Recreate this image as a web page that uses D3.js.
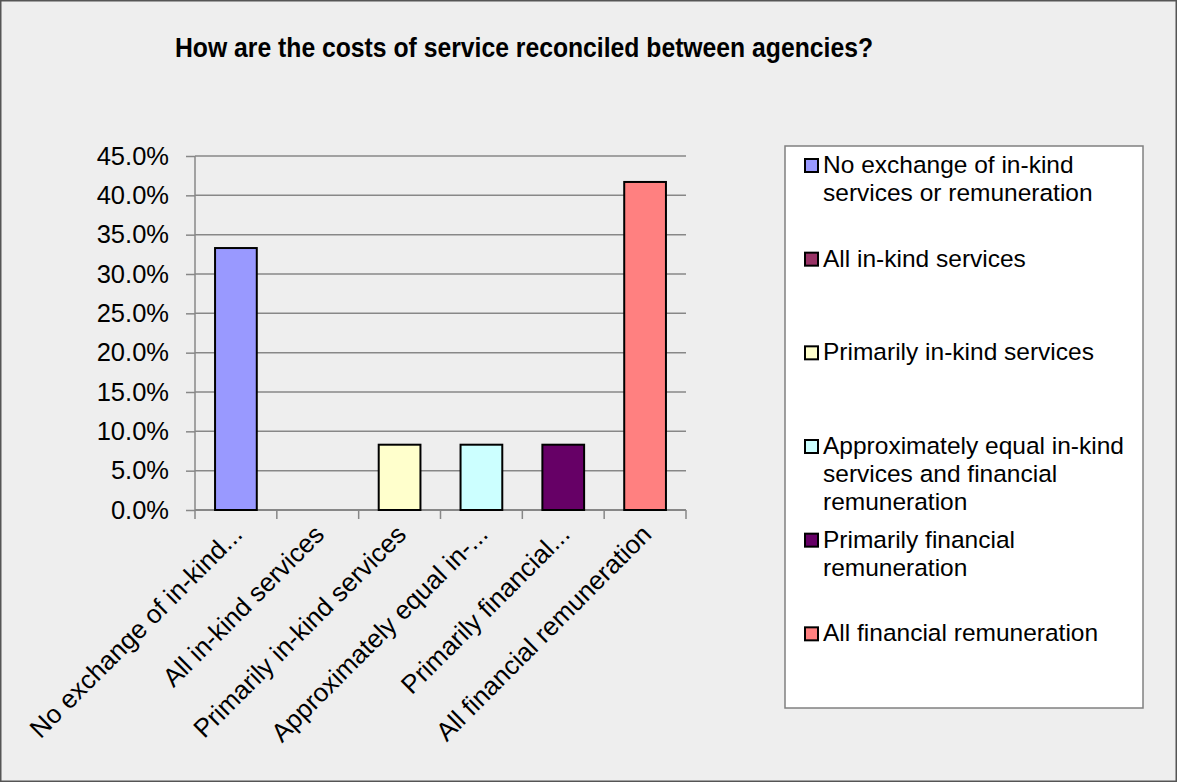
<!DOCTYPE html>
<html>
<head>
<meta charset="utf-8">
<script src="https://cdn.jsdelivr.net/npm/d3@7"></script>
<style>
  html, body { margin: 0; padding: 0; background: #eeeeee; }
  svg { display: block; font-family: "Liberation Sans", Arial, sans-serif; }
</style>
</head>
<body>
<svg id="chart" width="1177" height="782"></svg>
<script>
// Survey answers: share of respondents (%) per reconciliation method
const categories = [
  "No exchange of in-kind services or remuneration",
  "All in-kind services",
  "Primarily in-kind services",
  "Approximately equal in-kind services and financial remuneration",
  "Primarily financial remuneration",
  "All financial remuneration"
];
const axisLabels = [
  "No exchange of in-kind...",
  "All in-kind services",
  "Primarily in-kind services",
  "Approximately equal in-...",
  "Primarily financial...",
  "All financial remuneration"
];
const legendLines = [
  ["No exchange of in-kind", "services or remuneration"],
  ["All in-kind services"],
  ["Primarily in-kind services"],
  ["Approximately equal in-kind", "services and financial", "remuneration"],
  ["Primarily financial", "remuneration"],
  ["All financial remuneration"]
];
const values = [33.3, 0, 8.3, 8.3, 8.3, 41.7];
const colors = ["#9999FF", "#993366", "#FFFFCC", "#CCFFFF", "#660066", "#FF8080"];
const yTicks = [0, 5, 10, 15, 20, 25, 30, 35, 40, 45];
const title = "How are the costs of service reconciled between agencies?";

const W = 1177, H = 782;
const plot = { left: 195, right: 686, top: 156, bottom: 510 };
const svg = d3.select("#chart");

// chart background and frame
svg.append("rect")
  .attr("x", 0.75).attr("y", 0.75)
  .attr("width", W - 1.5).attr("height", H - 1.5)
  .attr("fill", "#eeeeee").attr("stroke", "#555555").attr("stroke-width", 1.5);

// title
svg.append("text")
  .attr("x", 175).attr("y", 57)
  .attr("font-size", 27).attr("font-weight", "bold")
  .attr("textLength", 698).attr("lengthAdjust", "spacingAndGlyphs")
  .attr("fill", "#000")
  .text(title);

const x = d3.scaleBand().domain(categories).range([plot.left, plot.right]).paddingInner(0.49).paddingOuter(0.245);
const y = d3.scaleLinear().domain([0, 45]).range([plot.bottom, plot.top]);

// horizontal gridlines
svg.append("g")
  .selectAll("line").data(yTicks.slice(1)).join("line")
  .attr("x1", plot.left).attr("x2", plot.right)
  .attr("y1", d => y(d)).attr("y2", d => y(d))
  .attr("stroke", "#878787").attr("stroke-width", 1.5);

// y axis
const yAxis = d3.axisLeft(y).tickValues(yTicks).tickSize(9).tickPadding(17)
  .tickFormat(d => d3.format(".1f")(d) + "%");
const gy = svg.append("g").attr("transform", `translate(${plot.left},0)`).call(yAxis);
gy.select(".domain").attr("stroke", "#878787").attr("stroke-width", 1.5).attr("d", `M0,${plot.top}V${plot.bottom}`);
gy.selectAll(".tick line").attr("stroke", "#878787").attr("stroke-width", 1.5);
gy.selectAll(".tick text").attr("font-size", 25.5).attr("fill", "#000")
  .attr("font-family", "Liberation Sans, Arial, sans-serif");

// x axis: ticks at category boundaries
const boundaries = d3.range(categories.length + 1).map(i => plot.left + i * (plot.right - plot.left) / categories.length);
const gx = svg.append("g");
gx.append("line")
  .attr("x1", plot.left).attr("x2", plot.right)
  .attr("y1", plot.bottom).attr("y2", plot.bottom)
  .attr("stroke", "#878787").attr("stroke-width", 2);
gx.selectAll("line.tk").data(boundaries).join("line").attr("class", "tk")
  .attr("x1", d => d).attr("x2", d => d)
  .attr("y1", plot.bottom).attr("y2", plot.bottom + 9)
  .attr("stroke", "#878787").attr("stroke-width", 1.5);

// bars
svg.append("g")
  .selectAll("rect").data(values).join("rect")
  .attr("x", (d, i) => x(categories[i]))
  .attr("y", d => y(d))
  .attr("width", x.bandwidth())
  .attr("height", d => y(0) - y(d))
  .attr("fill", (d, i) => colors[i])
  .attr("stroke", "#000").attr("stroke-width", 2)
  .attr("display", d => d > 0 ? null : "none");

// rotated category labels
svg.append("g")
  .selectAll("text").data(axisLabels).join("text")
  .attr("transform", (d, i) => `translate(${x(categories[i]) + x.bandwidth() / 2 + 8},${plot.bottom + 26}) rotate(-45)`)
  .attr("text-anchor", "end")
  .attr("font-size", 26)
  .attr("fill", "#000")
  .text(d => d);

// legend
const lg = { left: 785, top: 146, right: 1143, bottom: 708 };
svg.append("rect")
  .attr("x", lg.left).attr("y", lg.top)
  .attr("width", lg.right - lg.left).attr("height", lg.bottom - lg.top)
  .attr("fill", "#ffffff").attr("stroke", "#808080").attr("stroke-width", 1.5);
const slot = (lg.bottom - lg.top) / categories.length;
const items = svg.append("g").selectAll("g").data(legendLines).join("g")
  .attr("transform", (d, i) => `translate(${lg.left},${lg.top + i * slot})`);
items.append("rect")
  .attr("x", 20).attr("y", 13).attr("width", 13).attr("height", 13)
  .attr("fill", (d, i) => colors[i]).attr("stroke", "#000").attr("stroke-width", 2);
items.append("text")
  .attr("x", 38).attr("y", 27)
  .attr("font-size", 24.5).attr("fill", "#000")
  .selectAll("tspan").data(d => d).join("tspan")
  .attr("x", 38).attr("dy", (d, j) => j === 0 ? 0 : 28)
  .text(d => d);
</script>
</body>
</html>
